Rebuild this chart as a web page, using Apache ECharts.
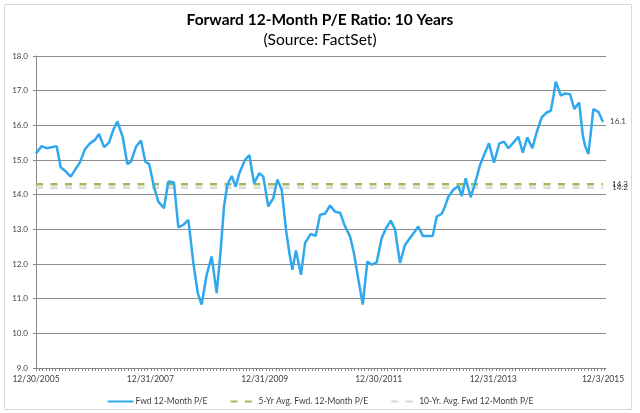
<!DOCTYPE html>
<html>
<head>
<meta charset="utf-8">
<script src="https://cdn.jsdelivr.net/npm/echarts@6/dist/echarts.min.js"></script>
<style>
html,body{margin:0;padding:0;background:#fff;}
#chart{width:640px;height:413px;}
</style>
</head>
<body>
<div id="chart"></div>
<script>
const dates = [
'2005-12-30','2006-02-04','2006-03-08','2006-04-09','2006-05-11','2006-06-06','2006-07-03','2006-08-09','2006-09-05','2006-10-07','2006-11-08','2006-12-10',
'2007-01-11','2007-02-06','2007-03-10','2007-04-11','2007-05-08','2007-06-03','2007-07-07','2007-08-06','2007-08-29','2007-09-30','2007-11-01','2007-11-29','2007-12-24',
'2008-01-23','2008-02-20','2008-03-27','2008-04-24','2008-05-30','2008-06-27','2008-07-29','2008-08-30','2008-10-01','2008-10-29','2008-11-23','2008-12-25',
'2009-01-26','2009-02-27','2009-03-25','2009-04-15','2009-05-06','2009-06-03','2009-06-29','2009-07-22','2009-08-27','2009-09-24','2009-10-24','2009-11-27','2009-12-22',
'2010-01-23','2010-02-24','2010-03-22','2010-04-19','2010-05-16','2010-06-07','2010-06-26','2010-07-19','2010-08-20','2010-09-15','2010-10-21','2010-11-22','2010-12-20',
'2011-01-21','2011-02-22','2011-03-26','2011-04-27','2011-05-29','2011-06-30','2011-07-25','2011-08-22','2011-09-19','2011-10-18','2011-11-15','2011-12-17',
'2012-01-18','2012-02-15','2012-03-16','2012-04-12','2012-05-14','2012-06-15','2012-07-17','2012-08-12','2012-09-08','2012-10-07','2012-11-11','2012-12-09',
'2013-01-04','2013-02-05','2013-02-26','2013-03-19','2013-04-20','2013-05-22','2013-06-13','2013-07-08','2013-08-09','2013-09-06','2013-10-08','2013-11-02','2013-12-04',
'2014-01-05','2014-02-08','2014-03-10','2014-04-07','2014-05-09','2014-06-10','2014-07-08','2014-08-06','2014-09-07','2014-10-05','2014-11-06','2014-12-08',
'2015-01-03','2015-01-19','2015-02-04','2015-03-08','2015-04-04','2015-05-06','2015-06-03','2015-07-03','2015-07-27','2015-08-10','2015-08-31','2015-09-16','2015-10-02','2015-11-03','2015-12-03'
];
const fwdPE = [
15.19,15.40,15.34,15.37,15.40,14.79,14.69,14.52,14.71,14.93,15.31,15.48,
15.58,15.75,15.37,15.50,15.87,16.11,15.67,14.88,14.95,15.38,15.56,14.95,14.88,
14.23,13.80,13.61,14.38,14.35,13.06,13.13,13.27,12.03,11.16,10.83,11.69,
12.22,11.16,12.41,13.66,14.28,14.54,14.23,14.62,15.00,15.14,14.33,14.62,14.52,
13.66,13.90,14.44,14.14,13.00,12.31,11.83,12.39,11.69,12.60,12.87,12.81,13.42,
13.45,13.69,13.51,13.48,13.08,12.79,12.31,11.55,10.83,12.07,11.98,12.05,
12.75,13.03,13.25,13.00,12.03,12.55,12.75,12.91,13.08,12.81,12.81,12.81,
13.37,13.45,13.66,13.94,14.14,14.25,13.96,14.47,13.93,14.33,14.86,15.14,15.48,
14.92,15.48,15.53,15.34,15.50,15.67,15.21,15.65,15.34,15.80,16.23,16.37,
16.42,16.81,17.26,16.86,16.92,16.90,16.47,16.66,15.70,15.41,15.17,15.79,16.47,16.39,16.10
];
const fiveYrAvg = 14.3;
const tenYrAvg = 14.2;
const seriesNames = ['Fwd 12-Month P/E', '5-Yr Avg. Fwd. 12-Month P/E', '10-Yr. Avg. Fwd 12-Month P/E'];
const xLabelDates = ['2005-12-30','2007-12-31','2009-12-31','2011-12-30','2013-12-31','2015-12-03'];
const xMin = '2005-12-30';
const xMax = '2015-12-22';
const yMin = 9, yMax = 18, yStep = 1;

const parse = d => +echarts.number.parseDate(d);
const peData = dates.map((d, i) => [parse(d), fwdPE[i]]);
const firstT = parse(dates[0]), lastT = parse(dates[dates.length - 1]);

// minor tick positions along the date axis (every 3 weeks)
const tickVals = [];
for (let t = parse(xMin); t <= parse(xMax); t += 21 * 86400000) tickVals.push(t);

const FONT = 'Lato, "Liberation Sans", sans-serif';
const chart = echarts.init(document.getElementById('chart'));
chart.setOption({
  backgroundColor: '#fff',
  animation: false,
  title: {
    text: 'Forward 12-Month P/E Ratio: 10 Years',
    subtext: '(Source: FactSet)',
    left: 'center',
    top: 7,
    itemGap: 4,
    textStyle: { fontFamily: FONT, fontSize: 15.5, fontWeight: 'bold', color: '#000' },
    subtextStyle: { fontFamily: FONT, fontSize: 15.5, fontWeight: 'normal', color: '#000' }
  },
  graphic: [{
    type: 'rect', silent: true,
    shape: { x: 4.5, y: 4.5, width: 627, height: 405 },
    style: { fill: 'none', stroke: '#d9d9d9', lineWidth: 1 }
  }],
  legend: {
    data: seriesNames,
    left: 'center',
    top: 392,
    itemWidth: 26,
    itemHeight: 6,
    itemGap: 22,
    itemStyle: { opacity: 0 },
    textStyle: { fontFamily: FONT, fontSize: 8.5, color: '#404040', padding: [0, 0, 0, -3] }
  },
  grid: { left: 36, right: 34, top: 56, bottom: 45, containLabel: false },
  xAxis: {
    type: 'value',
    min: parse(xMin),
    max: parse(xMax),
    axisLine: { show: true, onZero: false, lineStyle: { color: '#868686', width: 1 } },
    axisTick: { show: true, length: 3, customValues: tickVals, lineStyle: { color: '#868686' } },
    axisLabel: {
      customValues: xLabelDates.map(parse),
      fontFamily: FONT, fontSize: 8.5, color: '#404040', margin: 7,
      formatter: v => { const d = new Date(v); return (d.getMonth() + 1) + '/' + d.getDate() + '/' + d.getFullYear(); }
    },
    splitLine: { show: false }
  },
  yAxis: {
    type: 'value',
    min: yMin, max: yMax, interval: yStep,
    axisLine: { show: true, lineStyle: { color: '#868686', width: 1 } },
    axisTick: { show: true, length: 3, lineStyle: { color: '#868686' } },
    axisLabel: { fontFamily: FONT, fontSize: 8, color: '#404040', margin: 8, formatter: v => v.toFixed(1) },
    splitLine: { show: true, lineStyle: { color: '#8c8c8c', width: 1.2 } }
  },
  series: [
    {
      name: seriesNames[0], type: 'line', data: peData, symbol: 'none', z: 5,
      lineStyle: { color: '#2fa8ee', width: 2.5 }, itemStyle: { color: '#2fa8ee' },
      endLabel: { show: true, formatter: p => p.value[1].toFixed(1), fontFamily: FONT, fontSize: 8, color: '#404040', distance: 7 }
    },
    {
      name: seriesNames[1], type: 'line', symbol: 'none', z: 3,
      data: [[firstT, fiveYrAvg], [lastT, fiveYrAvg]],
      lineStyle: { color: '#9bbb59', width: 2.5, type: [7, 7.5] }, itemStyle: { color: '#9bbb59' },
      endLabel: { show: true, formatter: p => p.value[1].toFixed(1), fontFamily: FONT, fontSize: 8, color: '#404040', distance: 9 }
    },
    {
      name: seriesNames[2], type: 'line', symbol: 'none', z: 2,
      data: [[firstT, tenYrAvg], [lastT, tenYrAvg]],
      lineStyle: { color: '#d9d9d9', width: 2.5, type: [7, 7.5] }, itemStyle: { color: '#d9d9d9' },
      endLabel: { show: true, formatter: p => p.value[1].toFixed(1), fontFamily: FONT, fontSize: 8, color: '#404040', distance: 9 }
    }
  ]
});
</script>
</body>
</html>
